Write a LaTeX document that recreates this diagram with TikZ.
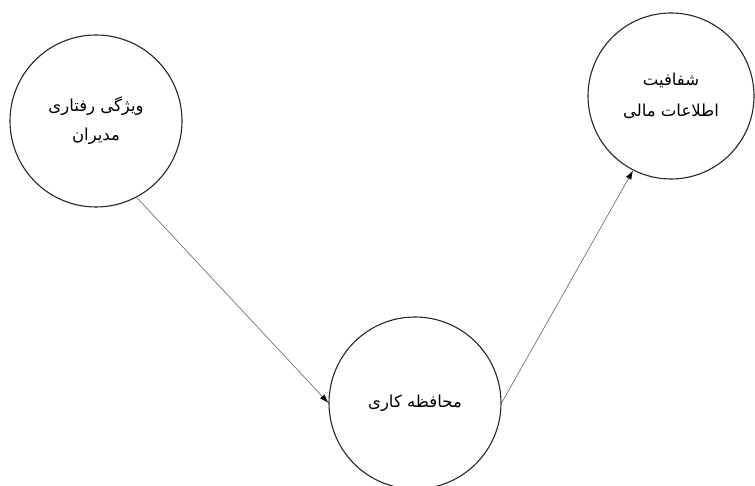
\documentclass[tikz,border=0pt]{standalone}
\usepackage{fontspec}
\newfontfamily\arabicfont[Script=Arabic]{DejaVu Sans}
\TeXXeTstate=1
\usetikzlibrary{arrows.meta}
\tikzset{
  mafhum/.style={circle, draw=black!85, line width=1.1pt, minimum size=172pt, inner sep=0pt,
    align=center, font=\arabicfont\fontsize{16.5}{29}\selectfont},
  rabete/.style={draw=black!55, line width=0.7pt, -{Latex[length=9pt,width=6pt,black]}}
}
\begin{document}
\begin{tikzpicture}[x=1pt,y=-1pt]
    \useasboundingbox (0,0) rectangle (755,486);

\node[mafhum] (raftar) at (96,121) {\beginR ویژگی رفتاری\endR\\\beginR مدیران\endR};
\node[mafhum] (mohafeze) at (415,403) {\beginR محافظه کاری\endR};
\node[mafhum, minimum size=166pt, font=\arabicfont\fontsize{16.5}{31}\selectfont] (shafafiat) at (671,96) {\beginR شفافیت\endR\\\beginR اطلاعات مالی\endR};

\draw[rabete] (raftar.-62) -- (mohafeze.west);
\draw[rabete] (mohafeze.east) -- (shafafiat.243);

\end{tikzpicture}
\end{document}
